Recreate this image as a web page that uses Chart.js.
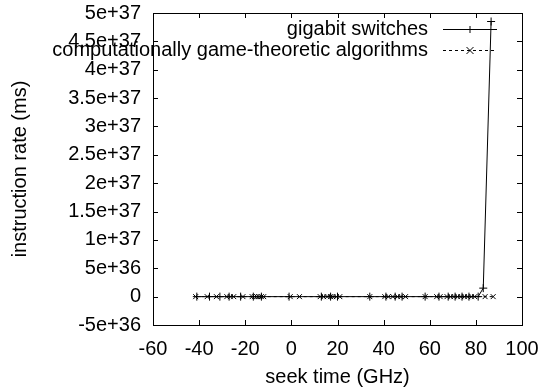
<!DOCTYPE html>
<html>
<head>
<meta charset="utf-8">
<script src="https://cdn.jsdelivr.net/npm/chart.js@4/dist/chart.umd.min.js"></script>
<style>
  html, body { margin: 0; padding: 0; background: #fff; }
  #wrap { width: 554px; height: 389px; }
</style>
</head>
<body>
<div id="wrap"><canvas id="chart" width="554" height="389"></canvas></div>
<script>
// series: gigabit switches (+ markers, solid line)
const gigabitX = [-41, -35.5, -31, -27, -22, -16.5, -13, -1, 13, 17, 20, 34, 41, 45, 48, 58, 64, 68, 71, 74, 77, 81, 83.2, 86.6]
const gigabitY = [0, 0, 0, 0, 0, 0, 0, 0, 0, 0, 0, 0, 0, 0, 0, 0, 0, 0, 0, 0, 0, 0, 1.5e36, 4.85e37]

// series: computationally game-theoretic algorithms (x markers, dashed line)
const algoX = [-41.5, -36.5, -32.5, -28, -26.5, -25, -21, -17, -16, -15, -14, -13, -12, -0.5, 3.5,
  12.5, 14, 15.5, 17, 18, 19.5, 21, 34, 40.5, 42, 44, 46, 47.5, 49.5, 58, 63, 64.5,
  67.5, 69, 70.5, 72, 73.5, 75, 76.5, 78, 79.5, 84, 87.5]
const algoY = [0, 0, 0, 0, 0, 0, 0, 0, 0, 0, 0, 0, 0, 0, 0,
  0, 0, 0, 0, 0, 0, 0, 0, 0, 0, 0, 0, 0, 0, 0, 0, 0,
  0, 0, 0, 0, 0, 0, 0, 0, 0, 0, 0]

const seriesNames = ['gigabit switches', 'computationally game-theoretic algorithms']

// axis ticks
const xTicks = [-60, -40, -20, 0, 20, 40, 60, 80, 100]
const yTicks = [-5e36, 0, 5e36, 1e37, 1.5e37, 2e37, 2.5e37, 3e37, 3.5e37, 4e37, 4.5e37, 5e37]
const yTickLabels = ['-5e+36', '0', '5e+36', '1e+37', '1.5e+37', '2e+37', '2.5e+37', '3e+37', '3.5e+37', '4e+37', '4.5e+37', '5e+37']

const FONT = '"Liberation Sans", Arial, Helvetica, sans-serif'

const toPoints = (xs, ys) => xs.map((x, i) => ({ x: x, y: ys[i] }))

// gnuplot style frame: box with inward ticks on all sides, plus key
const framePlugin = {
  id: 'frame',
  afterDatasetsDraw(chart) {
    const ctx = chart.ctx
    const a = chart.chartArea
    const xs = chart.scales.x
    const ys = chart.scales.y
    const t = 5
    ctx.save()
    ctx.strokeStyle = '#000'
    ctx.lineWidth = 1
    ctx.beginPath()
    xTicks.forEach(v => {
      const px = Math.round(xs.getPixelForValue(v)) + 0.5
      ctx.moveTo(px, a.bottom); ctx.lineTo(px, a.bottom - t)
      ctx.moveTo(px, a.top); ctx.lineTo(px, a.top + t)
    })
    yTicks.forEach(v => {
      const py = Math.round(ys.getPixelForValue(v)) + 0.5
      ctx.moveTo(a.left, py); ctx.lineTo(a.left + t, py)
      ctx.moveTo(a.right, py); ctx.lineTo(a.right - t, py)
    })
    ctx.stroke()
    ctx.strokeRect(Math.round(a.left) + 0.5, Math.round(a.top) + 0.5,
      Math.round(a.right - a.left), Math.round(a.bottom - a.top))

    // key
    ctx.font = '20px ' + FONT
    ctx.fillStyle = '#000'
    ctx.textAlign = 'right'
    ctx.textBaseline = 'middle'
    const rows = [29, 50]
    chart.data.datasets.forEach((ds, i) => {
      const y = rows[i] + 0.5
      ctx.fillText(seriesNames[i], 428, rows[i])
      ctx.beginPath()
      ctx.setLineDash(ds.borderDash || [])
      ctx.moveTo(443, y); ctx.lineTo(497, y)
      ctx.stroke()
      ctx.setLineDash([])
      ctx.beginPath()
      const r = 3.5
      if (ds.pointStyle === 'cross') {
        ctx.moveTo(470 - r, y); ctx.lineTo(470 + r, y)
        ctx.moveTo(470, y - r); ctx.lineTo(470, y + r)
      } else {
        ctx.moveTo(470 - r, y - r); ctx.lineTo(470 + r, y + r)
        ctx.moveTo(470 - r, y + r); ctx.lineTo(470 + r, y - r)
      }
      ctx.stroke()
    })
    ctx.restore()
  }
}

new Chart(document.getElementById('chart'), {
  type: 'scatter',
  data: {
    datasets: [{
      label: seriesNames[0],
      data: toPoints(gigabitX, gigabitY),
      showLine: true,
      borderColor: '#000',
      backgroundColor: '#000',
      borderWidth: 1,
      pointStyle: 'cross',
      pointRadius: 4,
      pointBorderWidth: 1,
      order: 2
    }, {
      label: seriesNames[1],
      data: toPoints(algoX, algoY),
      showLine: true,
      borderColor: '#000',
      backgroundColor: '#000',
      borderWidth: 1,
      borderDash: [3, 3],
      pointStyle: 'crossRot',
      pointRadius: 3.5,
      pointBorderWidth: 1,
      order: 1
    }]
  },
  options: {
    responsive: false,
    animation: false,
    layout: { padding: { top: 13, right: 32, left: 0, bottom: 0 } },
    plugins: {
      legend: { display: false },
      tooltip: { enabled: false }
    },
    scales: {
      x: {
        type: 'linear',
        min: -60,
        max: 100,
        afterBuildTicks: axis => { axis.ticks = xTicks.map(v => ({ value: v })) },
        afterFit: axis => {
          axis.height = 64
          axis.paddingLeft = 0
          axis.paddingRight = 0
        },
        grid: { display: false, drawTicks: false },
        border: { display: false },
        ticks: {
          color: '#000',
          font: { family: FONT, size: 20 },
          padding: 12,
          maxRotation: 0,
          callback: v => String(v)
        },
        title: {
          display: true,
          text: 'seek time (GHz)',
          color: '#000',
          font: { family: FONT, size: 20 },
          padding: { top: 0, bottom: 0 }
        }
      },
      y: {
        type: 'linear',
        min: -5e36,
        max: 5e37,
        afterBuildTicks: axis => { axis.ticks = yTicks.map(v => ({ value: v })) },
        afterFit: axis => {
          axis.width = 153
          axis.paddingTop = 0
          axis.paddingBottom = 0
        },
        grid: { display: false, drawTicks: false },
        border: { display: false },
        ticks: {
          color: '#000',
          font: { family: FONT, size: 20 },
          padding: 12,
          callback: (v, i) => yTickLabels[i]
        },
        title: {
          display: true,
          text: 'instruction rate (ms)',
          color: '#000',
          font: { family: FONT, size: 20 },
          padding: { top: 8, bottom: 0 }
        }
      }
    }
  },
  plugins: [framePlugin]
})
</script>
</body>
</html>
